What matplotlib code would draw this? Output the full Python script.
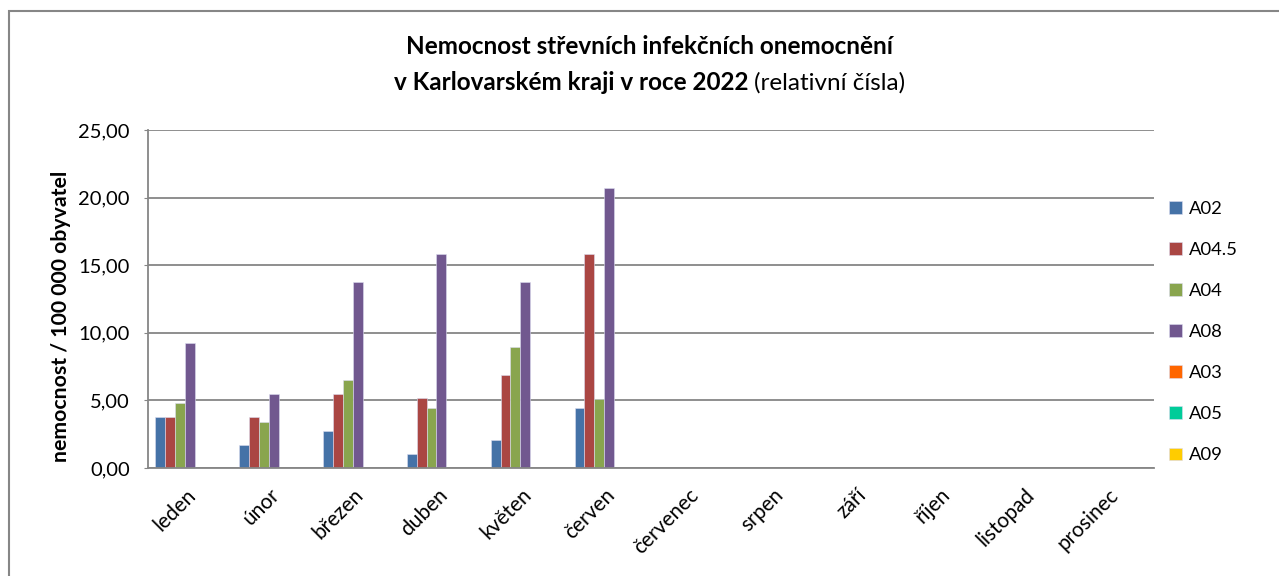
import matplotlib
matplotlib.use("Agg")
import matplotlib.pyplot as plt
import matplotlib.transforms as mtransforms
import numpy as np
from matplotlib.patches import Rectangle
from matplotlib.ticker import FuncFormatter

plt.rcParams['font.family'] = ['Lato', 'DejaVu Sans']

# data
months = ['leden', 'únor', 'březen', 'duben', 'květen', 'červen',
          'červenec', 'srpen', 'září', 'říjen', 'listopad', 'prosinec']
series = ['A02', 'A04.5', 'A04', 'A08', 'A03', 'A05', 'A09']
nan = np.nan
a02 = [3.78, 1.73, 2.71, 1.01, 2.05, 4.47, nan, nan, nan, nan, nan, nan]
a045 = [3.78, 3.78, 5.50, 5.16, 6.86, 15.84, nan, nan, nan, nan, nan, nan]
a04 = [4.81, 3.41, 6.52, 4.47, 8.93, 5.13, nan, nan, nan, nan, nan, nan]
a08 = [9.28, 5.50, 13.75, 15.84, 13.75, 20.68, nan, nan, nan, nan, nan, nan]
a03 = [nan] * 12
a05 = [nan] * 12
a09 = [nan] * 12
values = [a02, a045, a04, a08, a03, a05, a09]
colors = ['#4572A7', '#AA4643', '#89A54E', '#71588F', '#FF6600', '#00CC99', '#FFCC00']

W, H = 1279, 576
fig = plt.figure(figsize=(W / 100, H / 100), dpi=100)

# outer chart frame
fig.patches.append(Rectangle((9 / W, -0.1), 1.2, 1.1 - 11 / H, transform=fig.transFigure,
                             fill=False, edgecolor='#868686', linewidth=1.5))

ax = fig.add_axes([148 / W, 1 - 468 / H, (1154 - 148) / W, (468 - 130) / H])

x = np.arange(len(months))
w = 1 / 8.5
for j, (name, vals, c) in enumerate(zip(series, values, colors)):
    ax.bar(x + (j - 3) * w, vals, width=w, color=c, label=name,
           edgecolor='#dcdcf0', linewidth=0.4)

ax.set_xlim(-0.5, len(months) - 0.5)
ax.set_ylim(0, 25)
ax.set_yticks(np.arange(0, 26, 5))
ax.yaxis.set_major_formatter(FuncFormatter(lambda v, p: f'{v:.2f}'.replace('.', ',')))
ax.grid(axis='y', color='#868686', linewidth=1.3)
ax.set_axisbelow(True)
for s in ['top', 'right']:
    ax.spines[s].set_visible(False)
for s in ['left', 'bottom']:
    ax.spines[s].set_color('#868686')
    ax.spines[s].set_linewidth(1.3)
ax.tick_params(axis='y', length=3, color='#868686', labelsize=14.5, pad=10)
ax.tick_params(axis='x', length=0, labelsize=15, pad=12)
ax.set_xticks(x)
ax.set_xticklabels(months, rotation=45, ha='right', rotation_mode='anchor')
shift = mtransforms.ScaledTranslation(-4 / 100, 0, fig.dpi_scale_trans)
for lbl in ax.get_xticklabels():
    lbl.set_transform(lbl.get_transform() + shift)
ax.set_ylabel('nemocnost / 100 000 obyvatel', fontsize=15.3, fontweight='bold')
ax.yaxis.set_label_coords((71 - 148) / 1006, 0.45)

ax.legend(loc='upper left', bbox_to_anchor=(0.998, 0.84), frameon=False, fontsize=13.3,
          handlelength=0.7, handleheight=0.7, handletextpad=0.4, labelspacing=1.36)

# title, second line mixes bold and regular text
fig.text(0.508, 1 - 47 / H, 'Nemocnost střevních infekčních onemocnění', ha='center', va='center',
         fontsize=17.5, fontweight='bold')
r = fig.canvas.get_renderer()
t1 = fig.text(0, 1 - 83 / H, 'v Karlovarském kraji v roce 2022 ', va='center',
              fontsize=17.5, fontweight='bold')
t2 = fig.text(0, 1 - 83 / H, '(relativní čísla)', va='center', fontsize=17.5)
w1 = t1.get_window_extent(r).width
w2 = t2.get_window_extent(r).width
x0 = 0.508 * W - (w1 + w2) / 2
t1.set_x(x0 / W)
t2.set_x((x0 + w1) / W)

fig.savefig('out.png', dpi=100)
